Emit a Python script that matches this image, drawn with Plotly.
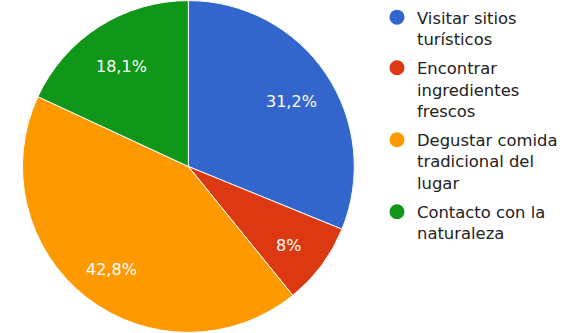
import math
import plotly.graph_objects as go

# Survey answers and their share of responses (%)
categories = [
    "Visitar sitios<br>turísticos",
    "Encontrar<br>ingredientes<br>frescos",
    "Degustar comida<br>tradicional del<br>lugar",
    "Contacto con la<br>naturaleza",
]
values = [31.2, 8, 42.8, 18.1]
colors = ["#3366cc", "#dc3912", "#ff9900", "#109618"]

W, H = 563, 333
FONT = "DejaVu Sans, Verdana, sans-serif"
pie_domain = dict(x=[0.04, 0.6315], y=[0.0, 1.0])
label_radius = 0.75  # slice labels sit at this fraction of the radius


def fmt(v):
    s = f"{v:.1f}".rstrip("0").rstrip(".")
    return s.replace(".", ",") + "%"


fig = go.Figure()
fig.add_trace(
    go.Pie(
        labels=categories,
        values=values,
        text=[fmt(v) for v in values],
        textinfo="none",
        marker=dict(colors=colors, line=dict(color="white", width=1)),
        sort=False,
        direction="clockwise",
        rotation=0,
        showlegend=False,
        domain=pie_domain,
        hoverinfo="label+text",
    )
)

# Percentage labels placed along each slice's bisector
cx = (pie_domain["x"][0] + pie_domain["x"][1]) / 2 * W
cy = (pie_domain["y"][0] + pie_domain["y"][1]) / 2 * H
R = min((pie_domain["x"][1] - pie_domain["x"][0]) * W,
        (pie_domain["y"][1] - pie_domain["y"][0]) * H) / 2
total = sum(values)
cum = 0.0
for v in values:
    mid = (cum + v / 2) / total * 2 * math.pi
    cum += v
    px = cx + label_radius * R * math.sin(mid)
    py = cy + label_radius * R * math.cos(mid)
    fig.add_annotation(
        x=px / W, y=py / H, xref="paper", yref="paper",
        text=fmt(v), showarrow=False, yshift=-5,
        font=dict(color="white", size=16, family=FONT),
        xanchor="center", yanchor="middle",
    )

# Round legend markers
for name, col in zip(categories, colors):
    fig.add_trace(
        go.Scatter(
            x=[None], y=[None], mode="markers", name=name,
            legendgroup=name,
            marker=dict(symbol="circle", size=15, color=col),
        )
    )

fig.update_layout(
    width=W,
    height=H,
    margin=dict(l=0, r=0, t=0, b=0),
    paper_bgcolor="white",
    plot_bgcolor="white",
    xaxis=dict(visible=False),
    yaxis=dict(visible=False),
    font=dict(family=FONT, size=16, color="#222222"),
    legend=dict(
        x=0.672, y=1.0, xanchor="left", yanchor="top",
        valign="top", tracegroupgap=5, itemwidth=30,
        font=dict(size=16.4, color="#222222", family=FONT),
        bgcolor="rgba(0,0,0,0)",
    ),
)

fig.write_html("out.html")
